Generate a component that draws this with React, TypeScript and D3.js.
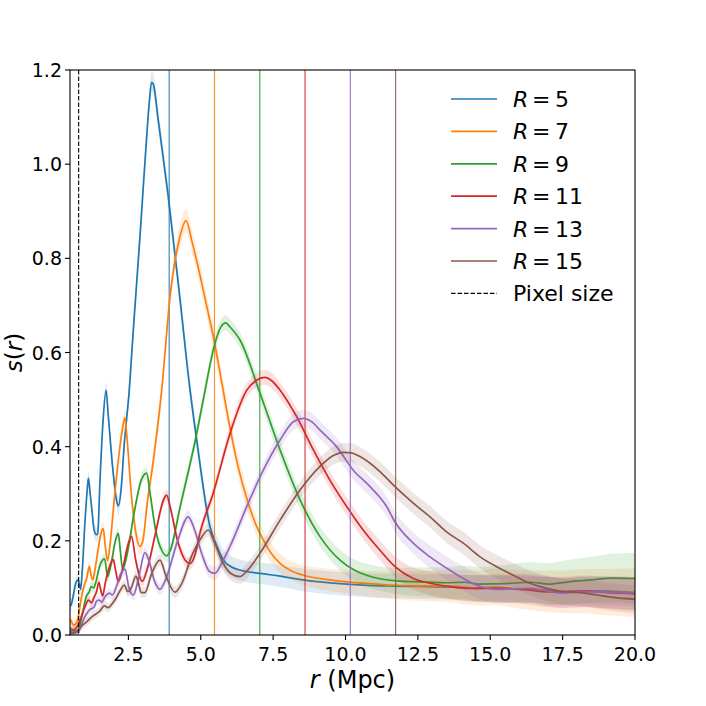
import { useMemo } from "react";
import * as d3 from "d3";

// radii of the filters and the pixel size (Mpc)
const radii = [5, 7, 9, 11, 13, 15];
const pixelSize = 0.782;
const colors = ["#1f77b4", "#ff7f0e", "#2ca02c", "#d62728", "#9467bd", "#8c564b"];

const xTicks = [2.5, 5, 7.5, 10, 12.5, 15, 17.5, 20];
const yTicks = [0, 0.2, 0.4, 0.6, 0.8, 1.0, 1.2];

// [r, s(r)]
const sR5: [number, number][] = [
  [0.49, 0.062], [0.52, 0.064], [0.6, 0.085], [0.66, 0.105], [0.76, 0.117], [0.8, 0.11],
  [0.85, 0.097], [0.9, 0.13], [1.0, 0.24], [1.08, 0.31], [1.12, 0.333], [1.18, 0.3],
  [1.24, 0.265], [1.32, 0.222], [1.4, 0.213], [1.44, 0.215], [1.52, 0.33], [1.62, 0.45],
  [1.73, 0.52], [1.8, 0.47], [1.95, 0.36], [2.08, 0.29], [2.15, 0.274], [2.25, 0.31],
  [2.35, 0.4], [2.53, 0.52], [2.67, 0.648], [2.9, 0.846], [3.1, 1.03], [3.22, 1.13],
  [3.3, 1.174], [3.36, 1.17], [3.53, 1.094], [3.88, 0.93], [4.28, 0.715], [4.63, 0.52],
  [4.86, 0.414], [5.32, 0.23], [5.55, 0.19], [5.78, 0.159], [6.05, 0.145], [6.35, 0.138],
  [7.05, 0.131], [7.74, 0.125], [8.54, 0.117], [9.58, 0.11], [10.6, 0.106], [11.65, 0.104],
  [12.5, 0.103], [13.6, 0.102], [14.6, 0.099], [15.2, 0.1], [16.0, 0.097], [16.7, 0.096],
  [17.5, 0.092], [18.2, 0.094], [19.0, 0.093], [20.0, 0.09],
];
const sR7: [number, number][] = [
  [0.49, 0.033], [0.55, 0.026], [0.62, 0.021], [0.7, 0.025], [0.76, 0.036], [0.85, 0.07],
  [0.93, 0.095], [1.0, 0.11], [1.06, 0.12], [1.15, 0.146], [1.2, 0.13], [1.27, 0.117],
  [1.35, 0.14], [1.45, 0.18], [1.55, 0.215], [1.63, 0.226], [1.7, 0.19], [1.78, 0.158],
  [1.88, 0.2], [2.0, 0.28], [2.15, 0.37], [2.3, 0.44], [2.38, 0.461], [2.45, 0.42],
  [2.6, 0.3], [2.75, 0.22], [2.9, 0.188], [3.0, 0.2], [3.15, 0.28], [3.36, 0.37],
  [3.65, 0.52], [3.94, 0.719], [4.28, 0.846], [4.49, 0.88], [4.7, 0.835], [4.97, 0.765],
  [5.2, 0.7], [5.43, 0.635], [5.7, 0.545], [6.01, 0.44], [6.3, 0.355], [6.59, 0.29],
  [6.9, 0.235], [7.16, 0.202], [7.45, 0.172], [7.74, 0.152], [8.1, 0.137], [8.54, 0.127],
  [9.46, 0.117], [10.6, 0.11], [11.5, 0.106], [12.34, 0.104], [13.6, 0.104], [14.6, 0.1],
  [15.2, 0.102], [16.0, 0.097], [16.7, 0.094], [17.5, 0.092], [18.2, 0.093], [19.0, 0.091],
  [20.0, 0.09],
];
const sR9: [number, number][] = [
  [0.49, 0.015], [0.6, 0.01], [0.75, 0.006], [0.82, 0.02], [0.93, 0.05], [1.04, 0.081],
  [1.15, 0.092], [1.21, 0.103], [1.3, 0.1], [1.38, 0.113], [1.5, 0.145], [1.62, 0.16],
  [1.68, 0.162], [1.78, 0.124], [1.9, 0.15], [2.05, 0.2], [2.15, 0.216], [2.22, 0.18],
  [2.3, 0.14], [2.45, 0.17], [2.7, 0.26], [2.95, 0.33], [3.13, 0.344], [3.25, 0.3],
  [3.45, 0.22], [3.65, 0.18], [3.82, 0.168], [3.95, 0.18], [4.28, 0.27], [4.86, 0.428],
  [5.15, 0.52], [5.43, 0.605], [5.7, 0.655], [5.87, 0.663], [6.0, 0.655], [6.35, 0.627],
  [7.05, 0.513], [7.74, 0.393], [8.43, 0.287], [9.12, 0.209], [9.81, 0.159], [10.3, 0.138],
  [10.73, 0.127], [11.77, 0.115], [12.57, 0.113], [13.5, 0.111], [14.1, 0.112], [14.6, 0.108],
  [15.5, 0.109], [16.4, 0.112], [17.0, 0.108], [17.7, 0.113], [18.5, 0.117], [19.2, 0.121],
  [20.0, 0.12],
];
const sR11: [number, number][] = [
  [0.49, 0.008], [0.6, 0.01], [0.75, 0.02], [0.88, 0.04], [1.0, 0.06], [1.12, 0.074],
  [1.23, 0.068], [1.3, 0.078], [1.4, 0.092], [1.48, 0.112], [1.53, 0.1], [1.61, 0.083],
  [1.7, 0.11], [1.82, 0.14], [1.98, 0.16], [2.05, 0.14], [2.15, 0.113], [2.3, 0.14],
  [2.5, 0.195], [2.61, 0.209], [2.75, 0.16], [2.98, 0.114], [3.15, 0.14], [3.45, 0.22],
  [3.7, 0.285], [3.82, 0.297], [3.95, 0.27], [4.2, 0.2], [4.45, 0.16], [4.63, 0.152],
  [4.8, 0.17], [4.97, 0.216], [5.43, 0.301], [6.01, 0.428], [6.59, 0.52], [6.9, 0.54],
  [7.21, 0.547], [7.45, 0.54], [7.74, 0.52], [8.31, 0.464], [8.89, 0.393], [9.46, 0.329],
  [10.04, 0.273], [10.61, 0.223], [11.19, 0.18], [11.71, 0.145], [12.34, 0.12], [12.92, 0.11],
  [13.6, 0.103], [14.3, 0.099], [15.2, 0.099], [16.0, 0.098], [16.8, 0.092], [17.5, 0.091],
  [18.3, 0.093], [19.1, 0.09], [20.0, 0.088],
];
const sR13: [number, number][] = [
  [0.49, 0.005], [0.65, 0.005], [0.8, 0.01], [0.95, 0.033], [1.15, 0.053], [1.32, 0.06],
  [1.4, 0.072], [1.5, 0.074], [1.58, 0.07], [1.7, 0.082], [1.84, 0.089], [1.95, 0.085],
  [2.07, 0.1], [2.2, 0.125], [2.38, 0.14], [2.52, 0.1], [2.67, 0.085], [2.85, 0.12],
  [3.07, 0.175], [3.2, 0.16], [3.4, 0.115], [3.59, 0.097], [3.8, 0.12], [4.2, 0.2],
  [4.57, 0.251], [4.75, 0.23], [5.05, 0.17], [5.3, 0.135], [5.49, 0.131], [5.7, 0.15],
  [6.01, 0.188], [6.59, 0.273], [7.16, 0.35], [7.74, 0.414], [8.2, 0.453], [8.54, 0.46],
  [8.85, 0.452], [9.12, 0.435], [9.69, 0.4], [10.27, 0.35], [10.85, 0.315], [11.42, 0.273],
  [11.71, 0.24], [12.34, 0.195], [12.92, 0.166], [13.49, 0.142], [14.07, 0.12], [14.65, 0.103],
  [15.2, 0.097], [15.8, 0.098], [16.4, 0.099], [17.0, 0.093], [17.5, 0.089], [18.2, 0.092],
  [19.0, 0.091], [20.0, 0.088],
];
const sR15: [number, number][] = [
  [0.49, 0.003], [0.65, 0.005], [0.76, 0.011], [0.9, 0.02], [1.04, 0.027], [1.27, 0.04],
  [1.5, 0.05], [1.67, 0.062], [1.8, 0.058], [1.96, 0.068], [2.07, 0.078], [2.22, 0.095],
  [2.36, 0.106], [2.48, 0.092], [2.6, 0.1], [2.76, 0.125], [2.85, 0.11], [2.94, 0.09],
  [3.07, 0.09], [3.3, 0.13], [3.59, 0.159], [3.8, 0.125], [4.11, 0.091], [4.35, 0.11],
  [4.7, 0.17], [5.0, 0.205], [5.26, 0.223], [5.45, 0.2], [5.75, 0.155], [6.05, 0.13],
  [6.35, 0.124], [6.65, 0.14], [7.05, 0.174], [7.74, 0.244], [8.43, 0.308], [9.12, 0.358],
  [9.55, 0.38], [9.93, 0.388], [10.2, 0.387], [10.5, 0.379], [11.19, 0.347], [11.71, 0.315],
  [12.34, 0.28], [12.92, 0.251], [13.49, 0.219], [14.07, 0.195], [14.65, 0.166], [15.22, 0.145],
  [15.8, 0.127], [16.37, 0.11], [16.95, 0.099], [17.52, 0.092], [18.1, 0.09], [18.68, 0.085],
  [19.25, 0.08], [20.0, 0.076],
];

// half-width of the shaded band at a few r values
const errR5: [number, number][] = [[0.5, 0.012], [3.3, 0.022], [6, 0.022], [10, 0.025], [20, 0.03]];
const errR7: [number, number][] = [[0.5, 0.01], [4.5, 0.025], [8, 0.02], [12, 0.03], [20, 0.052]];
const errR9: [number, number][] = [[0.5, 0.01], [6, 0.016], [10, 0.022], [14, 0.035], [20, 0.054]];
const errR11: [number, number][] = [[0.5, 0.008], [7.2, 0.016], [11, 0.02], [15, 0.03], [20, 0.035]];
const errR13: [number, number][] = [[0.5, 0.008], [8.5, 0.018], [12, 0.022], [16, 0.03], [20, 0.035]];
const errR15: [number, number][] = [[0.5, 0.008], [10, 0.02], [14, 0.024], [20, 0.03]];

const series = [sR5, sR7, sR9, sR11, sR13, sR15];
const errors = [errR5, errR7, errR9, errR11, errR13, errR15];

const W = 706;
const H = 706;
const margin = { top: 70, right: 71, bottom: 71, left: 70 };
const font = "'DejaVu Sans', sans-serif";

export default function App() {
  const innerW = W - margin.left - margin.right;
  const innerH = H - margin.top - margin.bottom;

  const x = useMemo(() => d3.scaleLinear().domain([0.483, 20]).range([0, innerW]), [innerW]);
  const y = useMemo(() => d3.scaleLinear().domain([0, 1.2]).range([innerH, 0]), [innerH]);

  const paths = useMemo(
    () =>
      series.map((pts, i) => {
        const err = d3
          .scaleLinear()
          .domain(errors[i].map(d => d[0]))
          .range(errors[i].map(d => d[1]))
          .clamp(true);
        const line = d3
          .line<[number, number]>()
          .x(d => x(d[0]))
          .y(d => y(d[1]))
          .curve(d3.curveMonotoneX);
        const band = d3
          .area<[number, number]>()
          .x(d => x(d[0]))
          .y0(d => y(d[1] - err(d[0])))
          .y1(d => y(d[1] + err(d[0])))
          .curve(d3.curveMonotoneX);
        return { line: line(pts) ?? "", band: band(pts) ?? "" };
      }),
    [x, y]
  );

  const legendTop = 99;
  const legendStep = 32.4;

  return (
    <svg
      width={W}
      height={H}
      style={{ position: "absolute", left: 0, top: 0, background: "#fff" }}
      fontFamily={font}
    >
      <defs>
        <clipPath id="plot">
          <rect width={innerW} height={innerH} />
        </clipPath>
      </defs>
      <g transform={`translate(${margin.left},${margin.top})`}>
        <g clipPath="url(#plot)">
          {radii.map((R, i) => (
            <g key={R}>
              <path d={paths[i].band} fill={colors[i]} fillOpacity={0.15} stroke="none" />
              <path d={paths[i].line} fill="none" stroke={colors[i]} strokeWidth={1.7} />
              <line
                x1={x(R * pixelSize)}
                x2={x(R * pixelSize)}
                y1={0}
                y2={innerH}
                stroke={colors[i]}
                strokeWidth={1.2}
                strokeOpacity={0.85}
              />
            </g>
          ))}
          <line
            x1={x(pixelSize)}
            x2={x(pixelSize)}
            y1={0}
            y2={innerH}
            stroke="#000"
            strokeWidth={1.1}
            strokeDasharray="4.5,2"
          />
        </g>

        <rect width={innerW} height={innerH} fill="none" stroke="#000" strokeWidth={1.1} />

        {xTicks.map(t => (
          <g key={t} transform={`translate(${x(t)},${innerH})`}>
            <line y2={5} stroke="#000" strokeWidth={1.1} />
            <text y={25.5} textAnchor="middle" fontSize={19}>
              {d3.format(".1f")(t)}
            </text>
          </g>
        ))}
        {yTicks.map(t => (
          <g key={t} transform={`translate(0,${y(t)})`}>
            <line x2={-5} stroke="#000" strokeWidth={1.1} />
            <text x={-8} y={7} textAnchor="end" fontSize={19}>
              {d3.format(".1f")(t)}
            </text>
          </g>
        ))}
      </g>

      <text x={margin.left + innerW / 2} y={688} textAnchor="middle" fontSize={24}>
        <tspan fontStyle="italic">r</tspan>
        <tspan> (Mpc)</tspan>
      </text>
      <text
        transform={`translate(22,${margin.top + innerH / 2}) rotate(-90)`}
        textAnchor="middle"
        fontSize={23}
      >
        <tspan fontStyle="italic">s</tspan>
        <tspan>(</tspan>
        <tspan fontStyle="italic">r</tspan>
        <tspan>)</tspan>
      </text>

      <g fontSize={22}>
        {radii.map((R, i) => (
          <g key={R} transform={`translate(0,${legendTop + i * legendStep})`}>
            <line x1={451} x2={497} stroke={colors[i]} strokeWidth={1.7} />
            <text x={513} y={8}>
              <tspan fontStyle="italic">R</tspan>
              <tspan x={532}>=</tspan>
              <tspan x={555}>{R}</tspan>
            </text>
          </g>
        ))}
        <g transform={`translate(0,${legendTop + radii.length * legendStep})`}>
          <line x1={451} x2={497} stroke="#000" strokeWidth={1.1} strokeDasharray="4.5,2" />
          <text x={513} y={8}>
            Pixel size
          </text>
        </g>
      </g>
    </svg>
  );
}
